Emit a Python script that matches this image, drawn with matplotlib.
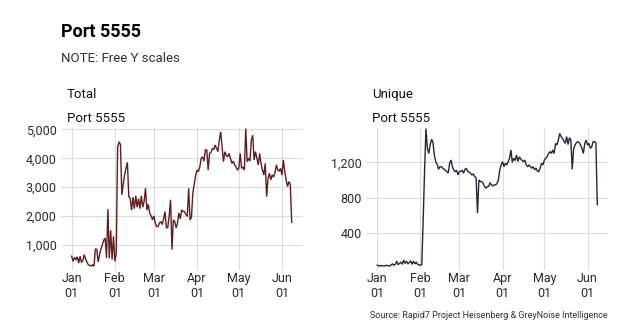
import matplotlib
matplotlib.use("Agg")
import matplotlib.pyplot as plt
import matplotlib.dates as mdates
from matplotlib.ticker import FuncFormatter, FixedLocator
import pandas as pd
import numpy as np

plt.rcParams['font.family'] = ['Roboto', 'DejaVu Sans']

title = "Port 5555"
subtitle = "NOTE: Free Y scales"
caption = "Source: Rapid7 Project Heisenberg & GreyNoise Intelligence"
panel_names = ["Total", "Unique"]
panel_sub = "Port 5555"

start_date = "2019-01-01"

total_jan = [600, 420, 560, 470, 580, 360, 600, 380, 450, 650, 500, 380, 300, 280, 260, 300,
             250, 850, 840, 400, 650, 850, 1000, 1150, 1230, 540, 2230, 520, 1500, 480, 1290]
total_feb = [420, 700, 4400, 4570, 4480, 2730, 3100, 3420, 3650, 3860, 2670, 2600, 2200, 2650,
             2250, 2700, 2300, 2600, 2250, 2700, 2300, 2500, 2960, 2200, 2400, 2100, 2000, 1860]
total_mar = [2000, 1750, 1630, 1630, 1750, 1800, 1700, 1900, 2150, 1580, 1600, 2000, 2560, 830,
             1860, 1800, 1580, 1750, 2100, 1900, 2210, 2150, 2150, 2050, 1980, 2960, 1860, 1950,
             2790, 3100, 3400]
total_apr = [3590, 3540, 3700, 4000, 4050, 3900, 4290, 4290, 3590, 4170, 4200, 4340, 4300, 4460,
             4350, 4230, 4630, 4920, 4400, 3880, 4230, 4100, 4050, 4170, 4000, 3820, 3900, 3770,
             3700, 3590]
total_may = [3650, 4170, 3650, 3700, 3590, 5030, 3880, 4000, 3900, 4630, 4800, 3940, 4230, 4000,
             3770, 4170, 3800, 3590, 3420, 3820, 2670, 3300, 3480, 3250, 3420, 3350, 3500, 3770,
             3600, 3550, 3650]
total_jun = [3420, 3940, 3550, 3250, 3020, 3190, 3100, 1770]

unique_jan = [40, 35, 30, 38, 32, 30, 35, 40, 33, 30, 45, 55, 40, 50, 86, 45, 60, 75, 50, 97,
              60, 85, 55, 70, 90, 50, 85, 55, 75, 50, 45]
unique_feb = [40, 45, 550, 1100, 1580, 1357, 1300, 1394, 1458, 1430, 1282, 1207, 1180, 1121,
              1150, 1150, 1135, 1120, 1110, 1095, 1080, 1189, 1226, 1150, 1110, 1095, 1110, 1058]
unique_mar = [1095, 1100, 1110, 1077, 1121, 1133, 1095, 1090, 1077, 1058, 1070, 1039, 1021, 628,
              1002, 983, 983, 965, 927, 908, 927, 927, 970, 945, 935, 945, 946, 960, 1002, 1114,
              1170]
unique_apr = [1207, 1150, 1190, 1170, 1207, 1245, 1338, 1200, 1245, 1220, 1282, 1210, 1260, 1240,
              1220, 1207, 1225, 1170, 1150, 1170, 1150, 1135, 1150, 1115, 1135, 1100, 1095, 1135,
              1190, 1170]
unique_may = [1226, 1245, 1265, 1300, 1320, 1300, 1338, 1300, 1413, 1395, 1450, 1525, 1490, 1470,
              1440, 1413, 1490, 1400, 1477, 1450, 1121, 1350, 1394, 1420, 1432, 1420, 1394, 1357,
              1300, 1413, 1450]
unique_jun = [1394, 1413, 1357, 1375, 1432, 1432, 1420, 722]

total = total_jan + total_feb + total_mar + total_apr + total_may + total_jun
unique = unique_jan + unique_feb + unique_mar + unique_apr + unique_may + unique_jun
dates = pd.date_range(start_date, periods=len(total), freq="D")

total_ticks = [1000, 2000, 3000, 4000, 5000]
unique_ticks = [400, 800, 1200]

W, H = 632, 335
fig = plt.figure(figsize=(W / 100, H / 100), dpi=100)

def px(x0, y_top, x1, y_bot):
    return [x0 / W, 1 - y_bot / H, (x1 - x0) / W, (y_bot - y_top) / H]

grid_c = "#dcdcdc"
text_c = "#2b2b2b"

specs = [
    (px(60.7, 127.7, 302.7, 270.0), total, "#5e1f22", total_ticks, (120, 5062), panel_names[0]),
    (px(366.2, 127.7, 608.3, 270.0), unique, "#262636", unique_ticks, (-14, 1590), panel_names[1]),
]

d0 = pd.Timestamp(start_date)
xlim = (mdates.date2num(d0 - pd.Timedelta(days=7.9)), mdates.date2num(d0 + pd.Timedelta(days=165.9)))

for rect, vals, col, ticks, ylim, name in specs:
    ax = fig.add_axes(rect)
    ax.plot(dates, vals, color=col, lw=1.0, solid_joinstyle="miter")
    ax.set_xlim(xlim)
    ax.set_ylim(ylim)
    ax.yaxis.set_major_locator(FixedLocator(ticks))
    ax.yaxis.set_major_formatter(FuncFormatter(lambda v, p: f"{int(v):,}"))
    ax.xaxis.set_major_locator(mdates.MonthLocator())
    ax.xaxis.set_major_formatter(mdates.DateFormatter("%b\n%d"))
    ax.grid(True, color=grid_c, lw=0.8)
    ax.set_axisbelow(True)
    for s in ax.spines.values():
        s.set_visible(False)
    ax.tick_params(axis="y", length=0, labelsize=9, colors=text_c, pad=3)
    ax.tick_params(axis="x", length=0, labelsize=9, colors=text_c, pad=1.5)
    for lab in ax.get_xticklabels():
        lab.set_linespacing(1.2)
    x0 = rect[0]
    fig.text(x0 + 6 / W, 1 - 95 / H, name, fontsize=9.5, color="#111111", va="center", ha="left")
    fig.text(x0 + 6 / W, 1 - 118 / H, panel_sub, fontsize=9.5, color="#111111", va="center", ha="left")

fig.text(61 / W, 1 - 32 / H, title, fontsize=13, fontweight="bold", color="#000000", va="center", ha="left")
fig.text(61 / W, 1 - 58 / H, subtitle, fontsize=9.5, color="#333333", va="center", ha="left")
fig.text(608 / W, 1 - 315 / H, caption, fontsize=6.5, color="#333333", va="center", ha="right")

fig.savefig("out.png", dpi=100, facecolor="white")
